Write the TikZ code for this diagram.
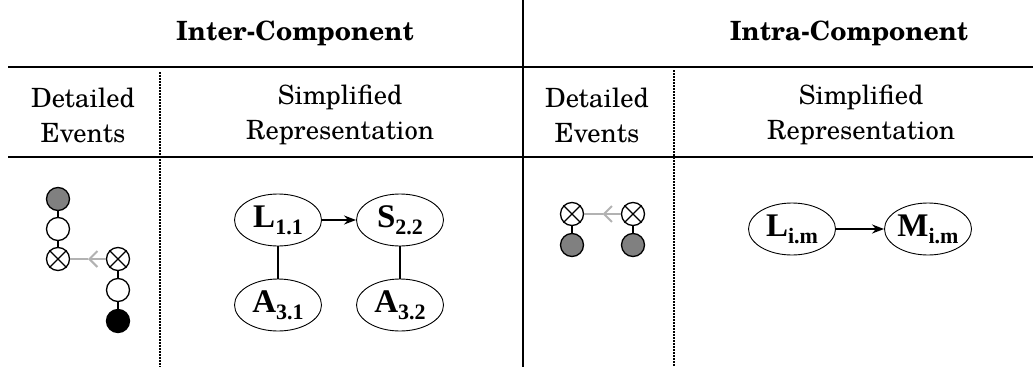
\documentclass[tikz,border=0pt]{standalone}
\usepackage{fontspec}
\setmainfont{texgyreschola}[Extension=.otf,UprightFont=*-regular,BoldFont=*-bold,ItalicFont=*-italic,BoldItalicFont=*-bolditalic]
\newfontfamily\timesfont{Liberation Serif}
\usepackage{tikz}
\usetikzlibrary{calc,arrows.meta,shapes.geometric}

\definecolor{evgrey}{RGB}{128,128,128}
\definecolor{msggrey}{RGB}{178,178,178}

\newcommand{\repl}[2]{{\timesfont\bfseries\fontsize{33}{33}\selectfont #1\raisebox{-7pt}{\fontsize{22}{22}\selectfont #2}}}
\newcommand{\crossev}[1]{\draw[line width=1.3pt] (#1.45) -- (#1.225) (#1.135) -- (#1.315);}

\tikzset{
	title/.style={font=\fontsize{26.5}{32}\selectfont\bfseries,inner sep=0pt,anchor=base},
	head/.style={font=\fontsize{26.5}{35}\selectfont,align=center,inner sep=0pt},
	rule/.style={line width=1.8pt},
	sep/.style={line width=1.5pt,dash pattern=on 1.5pt off 1.5pt},
	ev/.style={circle,draw,line width=1.3pt,minimum size=23pt,inner sep=0pt,fill=white},
	evgray/.style={ev,fill=evgrey},
	evblack/.style={ev,fill=black},
	link/.style={line width=2pt},
	msg/.style={draw=msggrey,line width=2pt},
	rep/.style={ellipse,draw,line width=0.9pt,minimum width=87pt,minimum height=52pt,inner sep=0pt},
	call/.style={line width=1.8pt,-{Stealth[length=12pt,width=9pt]}},
	tie/.style={line width=1.4pt}
}

\begin{document}
\begin{tikzpicture}[x=1pt,y=-1pt]
				\fill[white] (0,0) rectangle (1033,367);
				\useasboundingbox (0,0) rectangle (1033,367);
				
				\node[title] (inter) at (295,40) {Inter-Component};
				\node[title] (intra) at (849,40) {Intra-Component};
				
				\draw[rule] (8,67) -- (1033,67);
				\draw[rule] (8,157) -- (1033,157);
				\draw[rule] (523,0) -- (523,367);
				\draw[sep] (160,72) -- (160,367);
				\draw[sep] (674,70) -- (674,367);
				
				\node[head] (det1) at (83,115) {Detailed\\Events};
				\node[head] (sim1) at (340,115) {Simplified\\Representation};
				\node[head] (det2) at (597,115) {Detailed\\Events};
				\node[head] (sim2) at (861,115) {Simplified\\Representation};
				
				\node[evgray] (a1) at (58,199) {};
				\node[ev] (a2) at (58,229) {};
				\node[ev] (a3) at (58,259) {};
				\node[ev] (b1) at (118,259) {};
				\node[ev] (b2) at (118,290) {};
				\node[evblack] (b3) at (118,321) {};
				\draw[link] (a1) -- (a2) (a2) -- (a3) (b1) -- (b2) (b2) -- (b3);
				\foreach \c in {a3,b1}{
					\crossev{\c}
				}
				\draw[msg,-{Straight Barb[length=8pt,width=16pt]}] (b1.west) -- ($(b1.west)!0.5!(a3.east)$);
				\draw[msg] ($(b1.west)!0.5!(a3.east)$) -- (a3.east);
				
				\node[ev] (c1) at (572,214) {};
				\node[evgray] (c2) at (572,245) {};
				\node[ev] (d1) at (633,214) {};
				\node[evgray] (d2) at (633,245) {};
				\draw[link] (c1) -- (c2) (d1) -- (d2);
				\foreach \c in {c1,d1}{
					\crossev{\c}
				}
				\draw[msg,-{Straight Barb[length=8pt,width=16pt]}] (d1.west) -- ($(d1.west)!0.5!(c1.east)$);
				\draw[msg] ($(d1.west)!0.5!(c1.east)$) -- (c1.east);
				
				\node[rep] (l11) at (278,220) {\repl{L}{1.1}};
				\node[rep] (s22) at (400,220) {\repl{S}{2.2}};
				\node[rep] (a31) at (278,305) {\repl{A}{3.1}};
				\node[rep] (a32) at (400,305) {\repl{A}{3.2}};
				\draw[call] (l11) -- (s22);
				\draw[tie] (l11) -- (a31);
				\draw[tie] (s22) -- (a32);
				
				\node[rep] (lim) at (792,229) {\repl{L}{i.m}};
				\node[rep] (mim) at (928,229) {\repl{M}{i.m}};
				\draw[call] (lim) -- (mim);
			\end{tikzpicture}
\end{document}
